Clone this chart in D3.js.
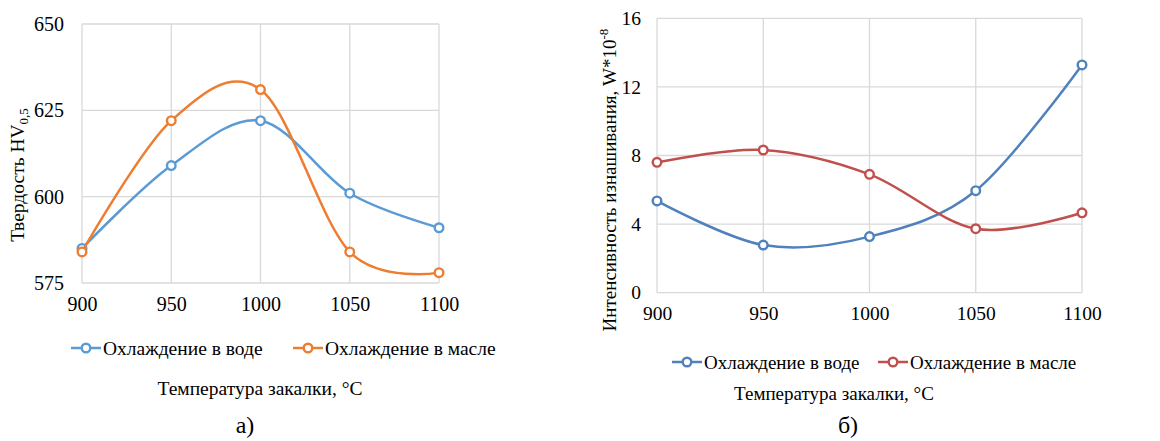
<!DOCTYPE html>
<html>
<head>
<meta charset="utf-8">
<script src="https://cdn.jsdelivr.net/npm/d3@7"></script>
</head>
<body style="margin:0">
<svg id="c" width="1160" height="441"></svg>
<script>
// ---------- data ----------
const temperatures = [900, 950, 1000, 1050, 1100];
const seriesNames = ["Охлаждение в воде", "Охлаждение в масле"];
// Panel a) hardness HV0,5
const hardnessWater = [585, 609, 622, 601, 591];
const hardnessOil   = [584, 622, 631, 584, 578];
const hardnessTicks = [575, 600, 625, 650];
// Panel b) wear intensity W*10^-8
const wearWater = [5.35, 2.78, 3.27, 5.95, 13.28];
const wearOil   = [7.6, 8.32, 6.9, 3.73, 4.66];
const wearTicks = [0, 4, 8, 12, 16];
const xTitle = "Температура закалки, °С";

const FONT = "Times New Roman";
const svg = d3.select("#c");

function styleText(sel, size) {
  return sel.attr("font-family", FONT).attr("font-size", size).attr("fill", "#000");
}

function panel(cfg) {
  const g = svg.append("g");
  const x = d3.scaleLinear().domain([900, 1100]).range([cfg.left, cfg.right]);
  const y = d3.scaleLinear().domain(cfg.yDomain).range([cfg.bottom, cfg.top]);

  // gridlines
  g.append("g").selectAll("line").data(cfg.yTicks).join("line")
    .attr("x1", cfg.left).attr("x2", cfg.right)
    .attr("y1", d => y(d)).attr("y2", d => y(d))
    .attr("stroke", "#d9d9d9").attr("stroke-width", 1.3);
  g.append("g").selectAll("line").data(temperatures).join("line")
    .attr("x1", d => x(d)).attr("x2", d => x(d))
    .attr("y1", cfg.top).attr("y2", cfg.bottom)
    .attr("stroke", "#d9d9d9").attr("stroke-width", 1.3);

  // y axis labels
  const yAxis = d3.axisLeft(y).tickValues(cfg.yTicks).tickSize(0).tickPadding(cfg.yPad);
  const ya = g.append("g").attr("transform", `translate(${cfg.left},0)`).call(yAxis);
  ya.attr("font-family", FONT);
  ya.select(".domain").remove();
  styleText(ya.selectAll("text"), cfg.tickSize);

  // x axis labels
  const xAxis = d3.axisBottom(x).tickValues(temperatures).tickSize(0).tickPadding(cfg.xPad).tickFormat(d3.format("d"));
  const xa = g.append("g").attr("transform", `translate(0,${cfg.bottom})`).call(xAxis);
  xa.attr("font-family", FONT);
  xa.select(".domain").remove();
  styleText(xa.selectAll("text"), cfg.tickSize);

  // lines
  const line = d3.line().x((d, i) => x(temperatures[i])).y(d => y(d)).curve(d3.curveCatmullRom.alpha(0));
  cfg.series.forEach((s, k) => {
    g.append("path").attr("d", line(s)).attr("fill", "none")
      .attr("stroke", cfg.colors[k]).attr("stroke-width", 2.5);
    g.append("g").selectAll("circle").data(s).join("circle")
      .attr("cx", (d, i) => x(temperatures[i])).attr("cy", d => y(d)).attr("r", 4.3)
      .attr("fill", "#fff").attr("stroke", cfg.colors[k]).attr("stroke-width", 2.4);
  });

  // y title
  const yt = styleText(g.append("text"), cfg.textSize)
    .attr("transform", `translate(${cfg.yTitleX},${cfg.yTitleY}) rotate(-90)`)
    .attr("text-anchor", "middle");
  yt.append("tspan").text(cfg.yTitle);
  yt.append("tspan").text(cfg.yTitleScript).attr("font-size", 13)
    .attr("dy", cfg.scriptDy);

  // legend
  cfg.legend.forEach((L, k) => {
    g.append("line").attr("x1", L.x).attr("x2", L.x + 30).attr("y1", cfg.legendY).attr("y2", cfg.legendY)
      .attr("stroke", cfg.colors[k]).attr("stroke-width", 2.5);
    g.append("circle").attr("cx", L.x + 15).attr("cy", cfg.legendY).attr("r", 4.3)
      .attr("fill", "#fff").attr("stroke", cfg.colors[k]).attr("stroke-width", 2.4);
    styleText(g.append("text"), cfg.textSize).attr("x", L.x + 32).attr("y", cfg.legendY).attr("dy", "0.35em")
      .text(seriesNames[k]);
  });

  // x title
  styleText(g.append("text"), cfg.textSize).attr("x", cfg.xTitleX).attr("y", cfg.xTitleY).attr("dy", "0.35em")
    .attr("text-anchor", "middle").text(xTitle);

  // panel label
  styleText(g.append("text"), 24).attr("x", cfg.labelX).attr("y", cfg.labelY).attr("dy", "0.35em")
    .attr("text-anchor", "middle").text(cfg.label);
}

panel({
  left: 82, right: 439, top: 24, bottom: 283,
  yDomain: [575, 650], yTicks: hardnessTicks, yPad: 18, xPad: 14, tickSize: 20, textSize: 19.5,
  series: [hardnessWater, hardnessOil], colors: ["#5B9BD5", "#ED7D31"],
  yTitle: "Твердость HV", yTitleScript: "0,5", scriptDy: 4,
  yTitleX: 24, yTitleY: 175,
  legend: [{x: 71}, {x: 293}], legendY: 348,
  xTitleX: 260, xTitleY: 388,
  label: "а)", labelX: 245, labelY: 425
});

panel({
  left: 657, right: 1082, top: 18.3, bottom: 292.7,
  yDomain: [0, 16], yTicks: wearTicks, yPad: 16, xPad: 13, tickSize: 19.5, textSize: 19,
  series: [wearWater, wearOil], colors: ["#4F81BD", "#C0504D"],
  yTitle: "Интенсивность изнашивания, W*10", yTitleScript: "-8", scriptDy: -8,
  yTitleX: 616, yTitleY: 180,
  legend: [{x: 672}, {x: 878}], legendY: 362,
  xTitleX: 834, xTitleY: 393,
  label: "б)", labelX: 848, labelY: 425
});
</script>
</body>
</html>
